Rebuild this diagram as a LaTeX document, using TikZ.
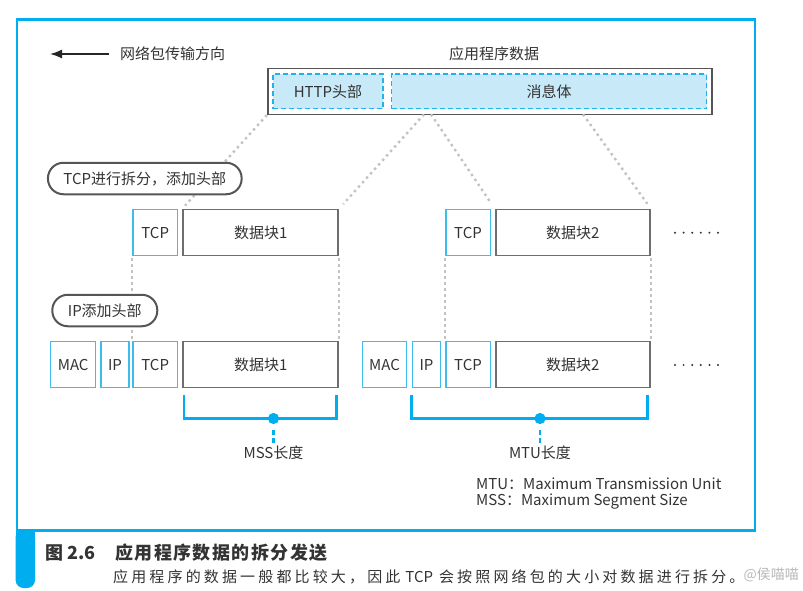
\documentclass[tikz,border=0pt]{standalone}
\usepackage{fontspec}
\setmainfont{Noto Sans CJK SC}
\newfontfamily\capfont{Noto Sans CJK SC}[LetterSpace=21]
\newfontfamily\titfont{Noto Sans CJK SC}[LetterSpace=8]
\usetikzlibrary{arrows.meta}
\definecolor{frameblue}{HTML}{00AEEF}
\definecolor{lightblue}{HTML}{3DBDEE}
\definecolor{hfill}{HTML}{C8E9F8}
\definecolor{hdash}{HTML}{22B1EA}
\definecolor{grayline}{HTML}{6E6E6E}
\definecolor{pillgray}{HTML}{555555}
\definecolor{txt}{HTML}{333333}
\definecolor{dotgray}{HTML}{C2C2C2}
\definecolor{wm}{HTML}{B8B8B8}
\tikzset{
  graybox/.style={draw=grayline, line width=1.8pt, minimum height=46pt, inner sep=0pt},
  bluebox/.style={draw=lightblue, line width=1.5pt, minimum height=46pt, inner sep=0pt},
  hbox/.style={draw=hdash, fill=hfill, dashed, dash pattern=on 5pt off 3pt, line width=1.2pt, minimum height=34.7pt, inner sep=0pt},
  pill/.style={draw=pillgray, fill=white, line width=2pt, rounded corners=15.5pt, inner sep=0pt, minimum height=31.5pt},
  dotline/.style={draw=dotgray, line width=2.4pt, dash pattern=on 2.4pt off 3.6pt},
  bracket/.style={draw=frameblue, line width=2.5pt},
  lbl/.style={inner sep=0pt, text=txt}
}
\begin{document}
\begin{tikzpicture}[x=1pt,y=-1pt, font=\fontsize{15}{18}\selectfont, text=txt]
\useasboundingbox (0,0) rectangle (803,590);
% frame
\draw[frameblue, line width=2.5pt] (16.8,19.5) rectangle (755,530.5);
\fill[frameblue, rounded corners=8pt] (15.6,529) -- (15.6,588) -- (35,588) -- (35,529) -- cycle;
\fill[frameblue] (15.6,529) rectangle (35,540);
% arrow
\coordinate (arS) at (109,54);
\coordinate (arE) at (50,54);
\draw[black!85, line width=1.6pt, -{Latex[length=12pt,width=9pt]}] (arS) -- (arE);
\node[lbl, anchor=west] (dir) at (120,54) {网络包传输方向};
% application data
\node[lbl] (applbl) at (494,54) {应用程序数据};
\node[draw=pillgray, line width=1.6pt, minimum width=444pt, minimum height=46pt, inner sep=0pt] (app) at (489.7,91.3) {};
\node[hbox, minimum width=110pt] (http) at (328,91.3) {HTTP头部};
\node[hbox, minimum width=315pt] (body) at (549.2,91.3) {消息体};
% split points
\coordinate (s1) at (app.south west);
\coordinate (s2) at (424,114.3);
\coordinate (s3) at (431,114.3);
\coordinate (s4) at (583,114.3);
% row 1
\node[bluebox, minimum width=44.5pt] (tcpA) at (155.2,232.5) {TCP};
\node[graybox, minimum width=155pt] (dA) at (260.8,232.5) {数据块1};
\node[bluebox, minimum width=44.5pt] (tcpB) at (468,232.5) {TCP};
\node[graybox, minimum width=154.3pt] (dB) at (572.8,232.5) {数据块2};
% dotted split lines
\draw[dotline, shorten >=4pt] (s1) -- (dA.north west);
\draw[dotline, shorten >=6pt] (s2) -- (dA.north east);
\draw[dotline, shorten >=6pt] (s3) -- (dB.north west);
\draw[dotline, shorten >=6pt] (s4) -- (dB.north east);
% row 2
\node[bluebox, minimum width=45pt] (macA) at (73.2,364.5) {MAC};
\node[bluebox, minimum width=28pt] (ipA) at (115,364.5) {IP};
\node[bluebox, minimum width=44.5pt] (tcpC) at (155.2,364.5) {TCP};
\node[graybox, minimum width=155pt] (dC) at (260.8,364.5) {数据块1};
\node[bluebox, minimum width=44.4pt] (macB) at (384.5,364.5) {MAC};
\node[bluebox, minimum width=28.4pt] (ipB) at (426.5,364.5) {IP};
\node[bluebox, minimum width=44.5pt] (tcpD) at (468,364.5) {TCP};
\node[graybox, minimum width=154.3pt] (dD) at (572.8,364.5) {数据块2};
% vertical dotted lines
\draw[dotline, shorten <=2pt, shorten >=2pt] (tcpA.south west) -- (tcpC.north west);
\draw[dotline, shorten <=2pt, shorten >=2pt] (dA.south east) -- (dC.north east);
\draw[dotline, shorten <=2pt, shorten >=2pt] (tcpB.south west) -- (tcpD.north west);
\draw[dotline, shorten <=2pt, shorten >=2pt] (dB.south east) -- (dD.north east);
% pills
\node[pill, minimum width=193.7pt] (p1) at (144.8,178.5) {TCP进行拆分，添加头部};
\node[pill, minimum width=105pt] (p2) at (104.8,310.5) {IP添加头部};
% ellipses
\foreach \yy in {232.7,365} {
  \foreach \k in {0,...,5} {
    \fill[txt] (675+8.6*\k,\yy) circle (1.1pt);
  }
}
% brackets
\coordinate (b1a) at (183.8,395);
\coordinate (b1b) at (336.5,395);
\coordinate (m1) at (273.5,418.5);
\draw[bracket] (b1a) -- (183.8,418.5) -- (336.5,418.5) -- (b1b);
\fill[frameblue] (m1) circle (5.6pt);
\draw[frameblue, line width=2.5pt, dash pattern=on 5pt off 3pt] (273.5,430) -- (273.5,443);
\node[lbl] (mss) at (273.5,452.7) {MSS长度};
\coordinate (b2a) at (411.7,395);
\coordinate (b2b) at (647.7,395);
\coordinate (m2) at (540,418.5);
\draw[bracket] (b2a) -- (411.7,418.5) -- (647.7,418.5) -- (b2b);
\fill[frameblue] (m2) circle (5.6pt);
\draw[frameblue, line width=2.5pt, dash pattern=on 5pt off 3pt] (540,430) -- (540,443);
\node[lbl] (mtu) at (540,452.7) {MTU长度};
% legend
\node[lbl, anchor=west] (leg1) at (476,483.3) {MTU：Maximum Transmission Unit};
\node[lbl, anchor=west] (leg2) at (476,501.7) {MSS：Maximum Segment Size};
% caption
\node[lbl, anchor=west, font=\fontsize{18}{20}\selectfont\bfseries] (fig) at (45,553) {图 2.6};
\node[lbl, anchor=west, font=\fontsize{18}{20}\selectfont\bfseries\titfont] (title) at (115,553) {应用程序数据的拆分发送};
\node[lbl, anchor=west] (cap) at (113,577) {{\capfont 应用程序的数据一般都比较大，因此}\hspace{5pt}TCP\hspace{6pt}{\capfont 会按照网络包的大小对数据进行拆分。}};
\node[lbl, anchor=east, text=wm, font=\fontsize{14}{16}\selectfont] (wmk) at (799,575) {@侯喵喵};
\end{tikzpicture}
\end{document}
